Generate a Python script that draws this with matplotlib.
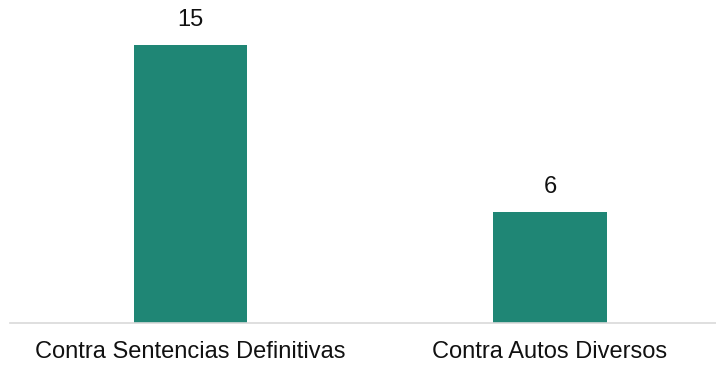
import matplotlib
matplotlib.use('Agg')
import matplotlib.pyplot as plt

categories = ['Contra Sentencias Definitivas', 'Contra Autos Diversos']
values = [15, 6]

plt.rcParams['font.family'] = ['Liberation Sans', 'DejaVu Sans']

fig = plt.figure(figsize=(7.16, 3.66), dpi=100)
# axes from x=10px to right edge, baseline at y=323px
ax = fig.add_axes([10 / 716, 43 / 366, 706 / 716, 323 / 366])

x = list(range(len(categories)))
ax.bar(x, values, width=0.315, color='#1f8675')

for xi, v in zip(x, values):
    ax.annotate(str(v), (xi, v), xytext=(0, 10), textcoords='offset points',
                ha='center', va='bottom', fontsize=17, color='#111111')

ax.set_xlim(-0.502, 1.462)
ax.set_ylim(0, 323 / 18.53)
ax.set_xticks(x)
ax.set_xticklabels(categories, fontsize=17, color='#111111')
ax.tick_params(axis='x', length=0, pad=13)
ax.set_yticks([])

for side in ['top', 'right', 'left']:
    ax.spines[side].set_visible(False)
ax.spines['bottom'].set_color('#d9d9d9')
ax.spines['bottom'].set_linewidth(1.2)

fig.savefig('out.png', dpi=100)
